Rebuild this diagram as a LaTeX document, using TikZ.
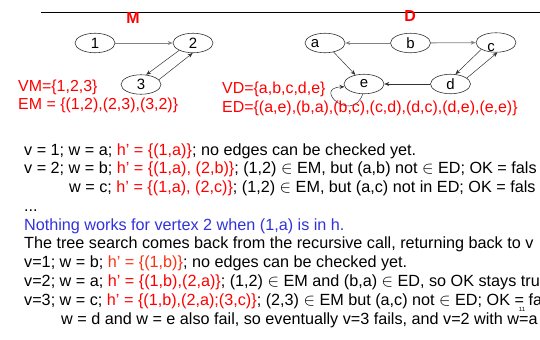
\documentclass[tikz,border=0pt]{standalone}
\usepackage{fontspec}
\setmainfont{Liberation Sans}
\usetikzlibrary{arrows.meta,shapes.geometric}
\definecolor{hred}{RGB}{255,0,0}
\definecolor{hred2}{RGB}{250,50,20}
\definecolor{nblue}{RGB}{50,50,220}
\definecolor{lgray}{RGB}{130,130,130}
\definecolor{dgray}{RGB}{50,50,50}
\tikzset{
  vtx/.style={draw=dgray, line width=0.6pt, ellipse, minimum width=40bp, minimum height=19.5bp, inner sep=0pt, font=\fontsize{15}{18}\selectfont},
  lbl/.style={inner sep=0pt, font=\fontsize{15}{18}\selectfont},
  arr/.style={-{Stealth[length=5bp,width=4bp]}, line width=0.5pt, draw=dgray},
  garr/.style={arr, draw=lgray, line width=0.8pt},
  txt/.style={anchor=base west, inner sep=0pt, font=\fontsize{16.25}{19}\selectfont\frenchspacing},
  stxt/.style={anchor=base west, inner sep=0pt, font=\fontsize{16}{19}\selectfont\frenchspacing},
  title/.style={text=hred, inner sep=0pt, font=\fontsize{16}{19}\selectfont\bfseries},
}
\begin{document}
\begin{tikzpicture}[x=1bp,y=-1bp]
\useasboundingbox (0,0) rectangle (540,339);
\clip (0,0) rectangle (540,339);
% top rule
\coordinate (ls) at (41,12.5);
\coordinate (le) at (540,12.5);
\draw[line width=0.8pt] (ls) -- (le);
\node[title] (M) at (133,18) {M};
\node[title] (D) at (410,16) {D};
% graph M
\node[vtx] (n1) at (95,43) {1};
\node[vtx] (n2) at (193,43) {2};
\node[vtx] (n3) at (141,84.5) {3};
\draw[garr] (n1) -- (n2);
\draw[arr] (n2.208) -- (n3.62);
\draw[arr] (n3.15) -- (n2.268);
% graph D
\node[vtx] (a) at (325,43) {};
\node[lbl] (la) at (315,44) {a};
\node[vtx] (b) at (410.5,43) {b};
\node[vtx] (c) at (496,42.5) {};
\node[lbl] (lc) at (491,48) {c};
\node[vtx] (e) at (364,84) {e};
\node[vtx] (d) at (450.5,84) {d};
\draw[garr] (b) -- (a);
\draw[garr] (b) -- (c);
\draw[arr] (a) -- (e);
\draw[arr] (c.205) -- (d.63);
\draw[arr] (d.20) -- (c.278);
\draw[arr] (d) -- (e);
\draw[arr] (e.263) .. controls (352,124) and (312,88) .. (e.188);
% sets
\node[stxt,text=hred] (vm) at (18,91) {VM=\{1,2,3\}};
\node[stxt,text=hred] (em) at (18,109) {EM = \{(1,2),(2,3),(3,2)\}};
\node[stxt,text=hred] (vd) at (222,93.5) {VD=\{a,b,c,d,e\}};
\node[stxt,text=hred] (ed) at (222,112) {ED=\{(a,e),(b,a),(b,c),(c,d),(d,c),(d,e),(e,e)\}};
% text lines
\node[txt] (t1) at (24,155) {v = 1; w = a; \textcolor{hred}{h’ = \{(1,a)\}}; no edges can be checked yet.};
\node[txt] (t2) at (24,173.8) {v = 2; w = b; \textcolor{hred}{h’ = \{(1,a), (2,b)\}}; (1,2) $\in$ EM, but (a,b) not $\in$ ED; OK = fals};
\node[txt] (t3) at (69,192.6) {w = c; \textcolor{hred}{h’ = \{(1,a), (2,c)\}}; (1,2) $\in$ EM, but (a,c) not in ED; OK = fals};
\node[txt] (t4) at (24,211.3) {...};
\node[txt,text=nblue] (t5) at (24,230.1) {Nothing works for vertex 2 when (1,a) is in h.};
\node[txt] (t6) at (24,248.9) {The tree search comes back from the recursive call, returning back to v};
\node[txt] (t7) at (24,267.7) {v=1; w = b; \textcolor{hred2}{h’ = \{(1,b)\}}; no edges can be checked yet.};
\node[txt] (t8) at (24,286.5) {v=2; w = a; \textcolor{hred}{h’ = \{(1,b),(2,a)\}}; (1,2) $\in$ EM and (b,a) $\in$ ED, so OK stays tru};
\node[txt] (t9) at (24,305.3) {v=3; w = c; \textcolor{hred}{h’ = \{(1,b),(2,a);(3,c)\}}; (2,3) $\in$ EM but (a,c) not $\in$ ED; OK = fa};
\node[txt] (t10) at (61,324) {w = d and w = e also fail, so eventually v=3 fails, and v=2 with w=a};
\node[inner sep=0pt, font=\fontsize{6}{7}\selectfont] (pg) at (522,309) {11};
\end{tikzpicture}
\end{document}
